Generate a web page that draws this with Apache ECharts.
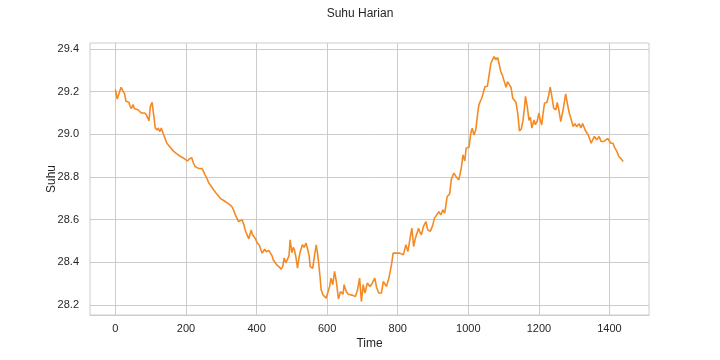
<!DOCTYPE html>
<html>
<head>
<meta charset="utf-8">
<script src="https://cdn.jsdelivr.net/npm/echarts@6/dist/echarts.min.js"></script>
<style>html,body{margin:0;padding:0;background:#fff}#c{width:720px;height:360px}</style>
</head>
<body>
<div id="c"></div>
<script>
const times = [0,5,10,16,21,26,30,35,38,42,45,50,54,59,64,69,73,78,83,88,92,95,99,104,109,113,119,121,126,130,137,142,146,150,154,160,165,169,178,185,192,197,204,210,216,221,226,235,245,250,254,259,264,270,278,285,292,297,302,311,316,321,330,335,340,345,349,354,359,364,368,371,378,382,385,388,392,397,402,408,412,416,420,423,427,430,435,440,444,447,452,457,463,470,474,478,483,488,492,495,500,504,507,512,516,520,524,530,535,540,545,549,552,559,564,569,573,576,580,583,588,593,597,602,607,611,616,621,626,632,638,645,648,654,660,664,673,680,686,692,697,702,707,714,721,727,735,740,746,754,759,768,775,779,783,787,797,806,816,823,829,835,840,845,850,855,859,863,867,873,880,885,892,899,904,908,912,916,922,928,933,936,940,947,952,959,966,973,980,985,990,994,1002,1007,1011,1016,1021,1026,1030,1034,1038,1042,1047,1054,1059,1064,1069,1073,1078,1083,1088,1092,1097,1102,1107,1111,1116,1121,1126,1130,1135,1140,1145,1150,1155,1159,1162,1167,1172,1176,1180,1186,1190,1195,1200,1204,1208,1212,1216,1223,1228,1232,1236,1242,1248,1252,1257,1262,1268,1276,1280,1286,1292,1297,1302,1307,1314,1319,1324,1331,1340,1348,1353,1357,1364,1371,1376,1383,1388,1395,1400,1404,1410,1414,1421,1426,1433,1439];
const suhu = [29.21,29.165,29.19,29.22,29.22,29.19,29.155,29.16,29.15,29.13,29.12,29.14,29.12,29.12,29.115,29.12,29.10,29.108,29.10,29.09,29.075,29.063,29.13,29.15,29.083,29.029,29.02,29.03,29.013,29.029,28.997,28.975,28.958,28.95,28.942,28.93,28.92,28.914,28.904,28.895,28.89,28.888,28.875,28.885,28.891,28.865,28.849,28.84,28.84,28.825,28.81,28.795,28.774,28.76,28.74,28.725,28.711,28.70,28.693,28.685,28.68,28.674,28.661,28.645,28.622,28.605,28.591,28.60,28.599,28.576,28.55,28.537,28.51,28.535,28.552,28.53,28.521,28.51,28.49,28.48,28.46,28.443,28.45,28.462,28.45,28.443,28.455,28.45,28.43,28.412,28.40,28.388,28.38,28.368,28.38,28.42,28.397,28.40,28.43,28.505,28.445,28.47,28.46,28.42,28.373,28.42,28.451,28.482,28.47,28.49,28.46,28.43,28.38,28.372,28.43,28.482,28.44,28.396,28.33,28.271,28.248,28.24,28.232,28.23,28.287,28.326,28.295,28.357,28.31,28.228,28.263,28.25,28.295,28.263,28.25,28.248,28.245,28.24,28.27,28.326,28.216,28.295,28.256,28.303,28.287,28.30,28.326,28.283,28.256,28.256,28.31,28.287,28.326,28.36,28.396,28.443,28.443,28.443,28.435,28.482,28.451,28.513,28.56,28.474,28.513,28.513,28.56,28.54,28.529,28.568,28.591,28.552,28.545,28.572,28.607,28.60,28.625,28.638,28.622,28.646,28.63,28.661,28.708,28.72,28.79,28.818,28.80,28.786,28.841,28.904,28.875,28.935,28.94,29.005,29.029,28.997,29.02,29.09,29.138,29.155,29.169,29.192,29.223,29.225,29.225,29.333,29.333,29.364,29.35,29.36,29.325,29.294,29.275,29.247,29.22,29.247,29.25,29.22,29.169,29.169,29.15,29.099,29.015,29.025,29.065,29.122,29.178,29.13,29.065,29.08,29.029,29.067,29.045,29.06,29.099,29.067,29.044,29.10,29.146,29.15,29.185,29.221,29.185,29.122,29.115,29.15,29.11,29.06,29.11,29.19,29.15,29.10,29.067,29.036,29.05,29.036,29.05,29.03,29.05,29.02,28.997,28.958,28.95,28.99,28.975,28.99,28.966,28.966,28.975,28.98,28.975,28.958,28.958,28.94,28.92,28.897,28.885,28.872];
const xTicks = [0,200,400,600,800,1000,1200,1400];
const yTicks = [28.2,28.4,28.6,28.8,29.0,29.2,29.4];

const chart = echarts.init(document.getElementById('c'), null, {renderer:'canvas'});
const font = 'Liberation Sans, Arial, sans-serif';
const gridColor = '#cccccc';
chart.setOption({
  animation: false,
  title: {text:'Suhu Harian', left:'center', top:3, textStyle:{fontFamily:font, fontSize:12, fontWeight:'normal', color:'#262626'}},
  grid: {left:90, right:71, top:43, bottom:45, show:true, borderColor:gridColor, borderWidth:1, backgroundColor:'#fff'},
  xAxis: {
    type:'value', min:-72, max:1512,
    name:'Time', nameLocation:'middle', nameGap:23, nameMoveOverlap:false,
    nameTextStyle:{fontFamily:font, fontSize:12, color:'#262626'},
    axisLine:{show:true, lineStyle:{color:gridColor}},
    axisTick:{show:false, customValues: xTicks},
    axisLabel:{customValues: xTicks, fontFamily:font, fontSize:11, color:'#262626', margin:8, formatter:v=>String(Math.round(v))},
    splitLine:{show:true, lineStyle:{color:gridColor, width:1}}
  },
  yAxis: {
    type:'value', min:28.153, max:29.428,
    name:'Suhu', nameLocation:'middle', nameGap:32, nameRotate:90, nameMoveOverlap:false,
    nameTextStyle:{fontFamily:font, fontSize:12, color:'#262626'},
    axisLine:{show:true, lineStyle:{color:gridColor}},
    axisTick:{show:false, customValues: yTicks},
    axisLabel:{customValues: yTicks, fontFamily:font, fontSize:11, color:'#262626', margin:11, formatter:v=>v.toFixed(1)},
    splitLine:{show:true, lineStyle:{color:gridColor, width:1}}
  },
  series: [{
    type:'line', data: times.map((t,i)=>[t, suhu[i]]),
    showSymbol:false, symbol:'none',
    lineStyle:{color:'#f58a24', width:1.6}
  }]
});
</script>
</body>
</html>
